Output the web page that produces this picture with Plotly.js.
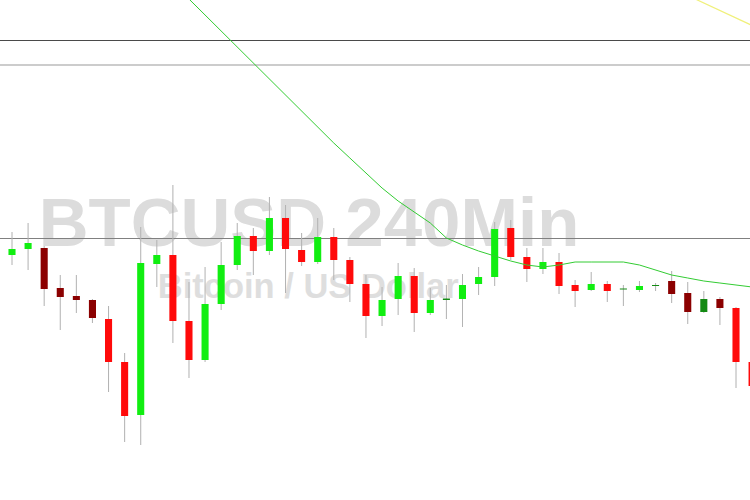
<!DOCTYPE html>
<html>
<head>
<meta charset="utf-8">
<script src="https://cdn.plot.ly/plotly-3.0.1.min.js"></script>
<style>html,body{margin:0;padding:0;background:#fff;}#chart{width:750px;height:500px;}</style>
</head>
<body>
<div id="chart"></div>
<script>
// ---- data (BTCUSD, 240-minute candles) ----
const openP  = [9490,9502,9504,9424,9408,9400,9362,9276,9170,9472,9490,9358,9280,9392,9470,9528,9498,9564,9500,9476,9526,9480,9432,9368,9402,9448,9374,9400,9402,9432,9446,9544,9486,9462,9476,9430,9420,9432,9421,9420,9428,9438,9414,9376,9402,9384,9276];
const highP  = [9536,9554,9508,9450,9450,9402,9388,9294,9546,9520,9630,9436,9466,9516,9554,9544,9606,9590,9534,9564,9544,9486,9450,9426,9474,9464,9424,9430,9452,9466,9556,9560,9504,9504,9494,9440,9456,9438,9430,9438,9434,9458,9436,9418,9406,9386,9280];
const lowP   = [9470,9460,9388,9340,9374,9354,9216,9116,9110,9426,9314,9244,9276,9380,9460,9450,9490,9414,9468,9472,9440,9396,9324,9348,9370,9336,9370,9362,9346,9410,9428,9480,9436,9452,9412,9386,9418,9396,9388,9416,9418,9394,9352,9374,9350,9224,9216];
const closeP = [9502,9514,9422,9406,9400,9364,9276,9168,9474,9490,9358,9280,9392,9470,9528,9498,9564,9502,9476,9526,9480,9432,9368,9400,9448,9374,9400,9403,9430,9446,9542,9486,9462,9476,9428,9418,9432,9418,9422,9428,9429,9412,9376,9402,9384,9276,9228];
// candle tone as shown by the chart (normal / dark)
const tone = ['n','n','d','d','d','d','n','n','n','n','n','n','n','n','n','n','n','n','n','n','n','n','n','n','n','n','n','d','n','n','n','n','n','n','n','n','n','n','d','n','d','d','d','d','d','n','n'];
// moving average (starts at candle 10)
const maStart = 10;
const maValues = [10034,10002,9970,9938,9904,9872,9840,9808,9776,9744,9714,9684,9654,9624,9598,9576,9554,9524,9510,9498,9488,9478,9470,9466,9470,9476,9476,9476,9476,9470,9460,9450,9444,9438,9434,9430,9426];
// second (yellow) line, starts at candle 42
const ylStart = 42;
const ylValues = [10009,9994,9979,9964,9949];
// horizontal levels
const levels = [9919, 9870, 9523];
const titleText = 'BTCUSD 240Min';
const subtitleText = 'Bitcoin / US Dollar';

// ---- build ----
const idx = openP.map((_, i) => i);
const colorOf = (i) => {
  const up = closeP[i] >= openP[i];
  if (tone[i] === 'd') return up ? '#138a13' : '#8b0000';
  return up ? '#11ee11' : '#ff0a0a';
};
const wick = {
  type: 'bar', x: idx, base: lowP, y: idx.map(i => highP[i] - lowP[i]),
  width: 0.065, marker: {color: '#b4b4b4', line: {width: 0}}, hoverinfo: 'skip', showlegend: false
};
const body = {
  type: 'bar', x: idx,
  base: idx.map(i => Math.min(openP[i], closeP[i])),
  y: idx.map(i => Math.max(Math.abs(closeP[i] - openP[i]), 2)),
  width: 0.44, marker: {color: idx.map(colorOf), line: {width: 0}}, showlegend: false
};
const ma = {
  type: 'scatter', mode: 'lines', x: maValues.map((_, k) => maStart + k), y: maValues,
  line: {color: '#33cc33', width: 1}, showlegend: false, hoverinfo: 'skip'
};
const yl = {
  type: 'scatter', mode: 'lines', x: ylValues.map((_, k) => ylStart + k), y: ylValues,
  line: {color: '#f0f07a', width: 1.2}, showlegend: false, hoverinfo: 'skip'
};

const shapes = [
  {type: 'rect', xref: 'paper', yref: 'paper', x0: 0.2, x1: 0.624, y0: 0.520, y1: 0.620, layer: 'below',
   line: {width: 0}, fillcolor: 'rgba(0,0,0,0)',
   label: {text: titleText, textposition: 'middle center', font: {family: 'Liberation Sans, Arial', size: 69, color: '#dcdcdc', weight: 'bold'}}},
  {type: 'rect', xref: 'paper', yref: 'paper', x0: 0.2, x1: 0.622, y0: 0.405, y1: 0.465, layer: 'below',
   line: {width: 0}, fillcolor: 'rgba(0,0,0,0)',
   label: {text: subtitleText, textposition: 'middle center', font: {family: 'Liberation Sans, Arial', size: 34.5, color: '#dedede', weight: 'bold'}}},
  {type: 'line', xref: 'paper', x0: 0, x1: 1, y0: levels[0], y1: levels[0], layer: 'below', line: {color: '#4a4a4a', width: 1}},
  {type: 'line', xref: 'paper', x0: 0, x1: 1, y0: levels[1], y1: levels[1], layer: 'below', line: {color: '#cccccc', width: 2}},
  {type: 'line', xref: 'paper', x0: 0, x1: 1, y0: levels[2], y1: levels[2], layer: 'below', line: {color: '#808080', width: 1}}
];

const layout = {
  width: 750, height: 500, margin: {l: 0, r: 0, t: 0, b: 0},
  paper_bgcolor: '#ffffff', plot_bgcolor: '#ffffff',
  barmode: 'overlay', showlegend: false,
  xaxis: {range: [-0.746, 45.87], visible: false, fixedrange: true},
  yaxis: {range: [9000, 10000], visible: false, fixedrange: true},
  shapes: shapes
};
Plotly.newPlot('chart', [wick, body, ma, yl], layout, {staticPlot: true});
</script>
</body>
</html>
